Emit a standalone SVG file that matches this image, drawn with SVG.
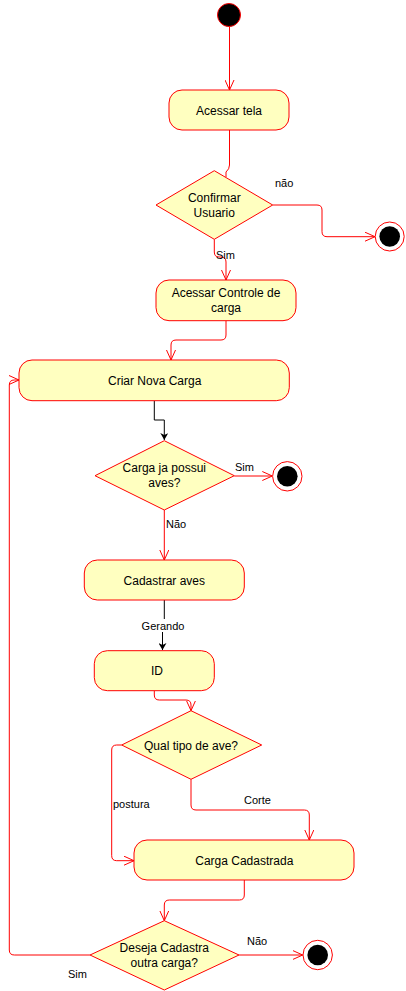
<svg xmlns="http://www.w3.org/2000/svg" width="406" height="991" viewBox="0 0 406 991">
<style>
.act{fill:#FFFFC0;stroke:#FF0000;stroke-width:1}
.dec{fill:#FFFFC0;stroke:#FF0000;stroke-width:1}
.t{font-family:"Liberation Sans",Arial,sans-serif;font-size:12px;fill:#000;text-anchor:middle}
.l{font-family:"Liberation Sans",Arial,sans-serif;font-size:11px;fill:#000}
.c{fill:none;stroke:#FF0000;stroke-width:1;marker-end:url(#open)}
.k{fill:none;stroke:#000;stroke-width:1;marker-end:url(#fill)}
.endo{fill:#fff;stroke:#FF0000;stroke-width:1}
</style>
<defs>
<marker id="open" viewBox="0 0 10 10" refX="10" refY="5" markerWidth="10" markerHeight="10" markerUnits="userSpaceOnUse" orient="auto">
<path d="M0,0.5 L10,5 L0,9.5" fill="none" stroke="#FF0000" stroke-width="1"/>
</marker>
<marker id="fill" viewBox="0 0 7 8" refX="7" refY="4" markerWidth="7" markerHeight="8" markerUnits="userSpaceOnUse" orient="auto">
<path d="M0,0 L7,4 L0,8 L2,4 Z" fill="#000"/>
</marker>
</defs>
<rect width="406" height="991" fill="#fff"/>
<g id="connectors">
<path class="c" d="M229.5 27 V90"/>
<path class="c" style="marker-end:none" d="M229.5 130 V165 Q229.5 169 226 172 V177"/>
<path class="c" d="M272.7 205 H317 Q322 205 322 210 V231.7 Q322 236.7 327 236.7 H375"/>
<path class="c" d="M214.3 239.3 V252 Q214.3 257 219 257 H221 Q226 257 226 262 V280"/>
<path class="c" d="M226 320.7 V335 Q226 340 221 340 H176 Q171 340 171 345 V360"/>
<path class="k" d="M154.3 400.7 V420 H164.3 V440"/>
<path class="c" d="M234.3 476 H272.3"/>
<path class="c" d="M164.3 510 V560"/>
<path class="k" d="M164.3 600 V626 H162.5 V650"/>
<path class="c" d="M154.3 690.7 V695 Q154.3 700 159.3 700 H186 Q191 700 191 705 V710.7"/>
<path class="c" d="M121.7 745 H116.7 Q111.7 745 111.7 750 V855.7 Q111.7 860.7 116.7 860.7 H134"/>
<path class="c" d="M191 779.3 V805 Q191 810 196 810 H304.3 Q309.3 810 309.3 815 V840"/>
<path class="c" d="M244.3 880 V895 Q244.3 900 239.3 900 H169.3 Q164.3 900 164.3 905 V920.7"/>
<path class="c" d="M239 955 H302.7"/>
<path class="c" d="M90 955 H14.3 Q9.3 955 9.3 950 V385 Q9.3 380 14.3 380 H19"/>
<rect x="142" y="619" width="42" height="13" fill="#fff"/>
<text class="l" x="275" y="187">não</text>
<text class="l" x="216" y="259">Sim</text>
<text class="l" x="235" y="471">Sim</text>
<text class="l" x="166" y="528">Não</text>
<text class="l" x="163" y="630" text-anchor="middle">Gerando</text>
<text class="l" x="113" y="808">postura</text>
<text class="l" x="244" y="804">Corte</text>
<text class="l" x="247" y="945">Não</text>
<text class="l" x="68" y="978">Sim</text>
</g>
<g id="start"><circle cx="229" cy="15" r="11.5" fill="#000" stroke="#FF0000" stroke-width="1"/></g>
<g id="acessar-tela"><rect class="act" x="169" y="90" width="120" height="40" rx="13"/><text class="t" x="229" y="115">Acessar tela</text></g>
<g id="confirmar-usuario"><polygon class="dec" points="214.3,170.7 272.7,205 214.3,239.3 156,205"/><text class="t" x="214.3" y="202">Confirmar</text><text class="t" x="214.3" y="217">Usuario</text></g>
<g id="end1"><circle class="endo" cx="389.7" cy="236.5" r="14.5"/><circle cx="389.7" cy="236.5" r="10.3" fill="#000"/></g>
<g id="acessar-controle"><rect class="act" x="156" y="280" width="140" height="40.7" rx="13"/><text class="t" x="226" y="297">Acessar Controle de</text><text class="t" x="226" y="312">carga</text></g>
<g id="criar-nova-carga"><rect class="act" x="19" y="360" width="270.3" height="40.7" rx="13"/><text class="t" x="154.7" y="385">Criar Nova Carga</text></g>
<g id="carga-possui-aves"><polygon class="dec" points="164.3,440.7 234.3,475.7 164.3,510 95,475.7"/><text class="t" x="164.3" y="472">Carga ja possui</text><text class="t" x="164.3" y="487">aves?</text></g>
<g id="end2"><circle class="endo" cx="287.3" cy="476.3" r="14.7"/><circle cx="287.3" cy="476.3" r="10.3" fill="#000"/></g>
<g id="cadastrar-aves"><rect class="act" x="84.3" y="560" width="160" height="40" rx="13"/><text class="t" x="164.3" y="584.5">Cadastrar aves</text></g>
<g id="id"><rect class="act" x="94.3" y="650.7" width="120" height="40" rx="13"/><text class="t" x="157" y="675">ID</text></g>
<g id="qual-tipo"><polygon class="dec" points="191,710.7 261.7,745 191,779.3 121.7,745"/><text class="t" x="191" y="749.5">Qual tipo de ave?</text></g>
<g id="carga-cadastrada"><rect class="act" x="134" y="840" width="220" height="40" rx="13"/><text class="t" x="244.3" y="865">Carga Cadastrada</text></g>
<g id="deseja-cadastra"><polygon class="dec" points="164.3,920.7 239,955 164.3,990 90,955"/><text class="t" x="164.3" y="951.5">Deseja Cadastra</text><text class="t" x="164.3" y="967">outra carga?</text></g>
<g id="end3"><circle class="endo" cx="317.7" cy="955" r="14.7"/><circle cx="317.7" cy="955" r="10.3" fill="#000"/></g>
</svg>
